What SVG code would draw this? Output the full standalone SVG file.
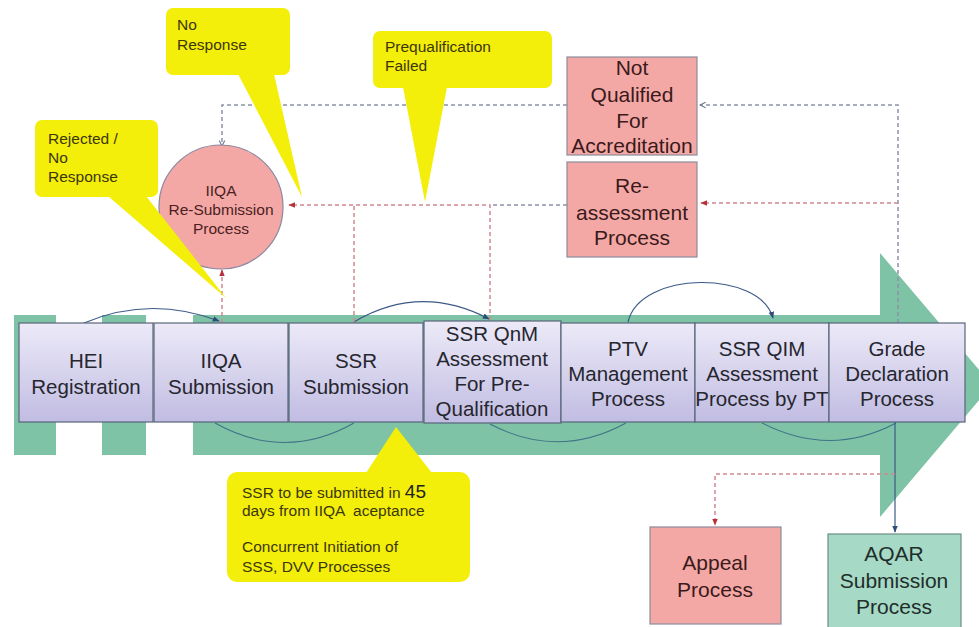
<svg xmlns="http://www.w3.org/2000/svg" width="979" height="627" viewBox="0 0 979 627">
<style>
.bt{font-family:"Liberation Sans",Arial,sans-serif;font-size:20.5px;fill:#26262f;text-anchor:middle}
.pt{font-family:"Liberation Sans",Arial,sans-serif;font-size:21px;fill:#3a1a1a;text-anchor:middle}
.ct{font-family:"Liberation Sans",Arial,sans-serif;font-size:15.5px;fill:#3c360c}
.box{fill:url(#bg);stroke:#58657a;stroke-width:1.2}
.pink{fill:#f4a8a6;stroke:#8a8c9c;stroke-width:1.2}
.yel{fill:#f3ee0a}
.gl{fill:none;stroke:#8a93a8;stroke-width:1.5;stroke-dasharray:4 3}
.rl{fill:none;stroke:#d08890;stroke-width:1.5;stroke-dasharray:4 3}
.bl{fill:none;stroke:#3d5a86;stroke-width:1.2}
.bl2{fill:none;stroke:#3f7388;stroke-width:1.1}
</style>
<defs>
<linearGradient id="bg" x1="0" y1="0" x2="0" y2="1">
<stop offset="0" stop-color="#eceaf8"/>
<stop offset="1" stop-color="#c1bce2"/>
</linearGradient>
<marker id="ag" viewBox="0 0 10 10" refX="9" refY="5" markerWidth="7" markerHeight="7" orient="auto-start-reverse" markerUnits="userSpaceOnUse">
<path d="M1 1 L9 5 L1 9" fill="none" stroke="#6a7590" stroke-width="1.5"/>
</marker>
<marker id="ar" viewBox="0 0 10 10" refX="9" refY="5" markerWidth="7" markerHeight="7" orient="auto-start-reverse" markerUnits="userSpaceOnUse">
<path d="M0 1 L10 5 L0 9 Z" fill="#b8303a"/>
</marker>
<marker id="ab" viewBox="0 0 10 10" refX="9" refY="5" markerWidth="7" markerHeight="7" orient="auto-start-reverse" markerUnits="userSpaceOnUse">
<path d="M0 1 L10 5 L0 9 Z" fill="#2f4d78"/>
</marker>
</defs>
<rect width="979" height="627" fill="#ffffff"/>
<g id="bigarrow" fill="#7ec3a6">
<rect x="14" y="315" width="42" height="140"/>
<rect x="102" y="315" width="44" height="140"/>
<path d="M193 315 L880 315 L880 253 L992 385 L880 517 L880 455 L193 455 Z"/>
</g>
<g id="connectors">
<path class="bl" d="M84 323 Q150 295 219 321" marker-end="url(#ab)"/>
<path class="bl" d="M354 322 Q420 283 489 319" marker-end="url(#ab)"/>
<path class="bl" d="M628 322 C640 270 760 270 773 318" marker-end="url(#ab)"/>
<path class="bl2" d="M215 423 Q285 462 354 423"/>
<path class="bl2" d="M490 424 Q558 460 626 423"/>
<path class="bl2" d="M762 423 Q830 458 896 423"/>
<path class="gl" d="M898 323 L898 105 L700 105" marker-end="url(#ag)"/>
<path class="rl" d="M898 203 L701 203" marker-end="url(#ar)"/>
<path class="gl" d="M567 105 L222 105 L222 146" marker-end="url(#ag)"/>
<path class="rl" d="M222 323 L222 270" marker-end="url(#ar)"/>
<path class="rl" d="M354 322 L354 205"/>
<path class="rl" d="M490 320 L490 205 L289 205" marker-end="url(#ar)"/>
<path class="gl" d="M567 205 L490 205"/>
<path class="bl" d="M895 422 L895 532" marker-end="url(#ab)"/>
<path class="rl" d="M895 474 L715 474 L715 525" marker-end="url(#ar)"/>
</g>
<g id="hei"><rect class="box" x="19" y="323" width="134" height="99"/><text class="bt" x="86" y="368">HEI</text><text class="bt" x="86" y="394">Registration</text></g>
<g id="iiqa"><rect class="box" x="154" y="323" width="134" height="99"/><text class="bt" x="221" y="368">IIQA</text><text class="bt" x="221" y="394">Submission</text></g>
<g id="ssr"><rect class="box" x="289" y="323" width="134" height="99"/><text class="bt" x="356" y="368">SSR</text><text class="bt" x="356" y="394">Submission</text></g>
<g id="qnm"><rect class="box" x="424" y="321" width="137" height="102"/><text class="bt" x="492" y="341">SSR QnM</text><text class="bt" x="492" y="366">Assessment</text><text class="bt" x="492" y="391">For Pre-</text><text class="bt" x="492" y="416">Qualification</text></g>
<g id="ptv"><rect class="box" x="561" y="323" width="134" height="99"/><text class="bt" x="628" y="356">PTV</text><text class="bt" x="628" y="381">Management</text><text class="bt" x="628" y="406">Process</text></g>
<g id="qim"><rect class="box" x="695" y="323" width="134" height="99"/><text class="bt" x="762" y="356">SSR QIM</text><text class="bt" x="762" y="381">Assessment</text><text class="bt" x="762" y="406">Process by PT</text></g>
<g id="grade"><rect class="box" x="829" y="323" width="136" height="99"/><text class="bt" x="897" y="356">Grade</text><text class="bt" x="897" y="381">Declaration</text><text class="bt" x="897" y="406">Process</text></g>
<g id="resub"><circle cx="221" cy="207" r="62" fill="#f4a8a6" stroke="#8a86a0" stroke-width="1.2"/>
<text class="ct" x="221" y="196" text-anchor="middle" style="fill:#4a1e22">IIQA</text>
<text class="ct" x="221" y="215" text-anchor="middle" style="fill:#4a1e22">Re-Submission</text>
<text class="ct" x="221" y="234" text-anchor="middle" style="fill:#4a1e22">Process</text></g>
<g id="notq"><rect class="pink" x="567" y="57" width="130" height="98"/><text class="pt" x="632" y="75">Not</text><text class="pt" x="632" y="102">Qualified</text><text class="pt" x="632" y="128">For</text><text class="pt" x="632" y="153">Accreditation</text></g>
<g id="reass"><rect class="pink" x="567" y="162" width="130" height="95"/><text class="pt" x="632" y="193">Re-</text><text class="pt" x="632" y="220">assessment</text><text class="pt" x="632" y="245">Process</text></g>
<g id="appeal"><rect class="pink" x="650" y="527" width="131" height="97"/><text class="pt" x="715" y="570">Appeal</text><text class="pt" x="715" y="597">Process</text></g>
<g id="aqar"><rect x="828" y="534" width="133" height="96" fill="#a6d9c6" stroke="#6a8f84" stroke-width="1.2"/><text class="pt" x="894" y="561" style="fill:#1f2e2a">AQAR</text><text class="pt" x="894" y="588" style="fill:#1f2e2a">Submission</text><text class="pt" x="894" y="614" style="fill:#1f2e2a">Process</text></g>
<g id="callout-noresp"><rect class="yel" x="166" y="8" width="124" height="67" rx="7"/><path class="yel" d="M238 74 L274 74 L302 197 Z"/><text class="ct" x="177" y="30">No</text><text class="ct" x="177" y="50">Response</text></g>
<g id="callout-rejected"><rect class="yel" x="35" y="120" width="123" height="77" rx="7"/><path class="yel" d="M108 196 L146 196 L226 298 Z"/><text class="ct" x="48" y="144">Rejected /</text><text class="ct" x="48" y="163">No</text><text class="ct" x="48" y="182">Response</text></g>
<g id="callout-prequal"><rect class="yel" x="373" y="31" width="179" height="57" rx="7"/><path class="yel" d="M403 87 L447 87 L425 202 Z"/><text class="ct" x="385" y="52">Prequalification</text><text class="ct" x="385" y="71">Failed</text></g>
<g id="callout-ssr"><rect class="yel" x="227" y="472" width="243" height="110" rx="10"/><path class="yel" d="M366 473 L432 473 L396 427 Z"/>
<text class="ct" x="242" y="498">SSR to be submitted in <tspan style="font-size:19px;fill:#222">45</tspan></text>
<text class="ct" x="242" y="516" xml:space="preserve">days from IIQA  aceptance</text>
<text class="ct" x="242" y="552">Concurrent Initiation of</text>
<text class="ct" x="242" y="572">SSS, DVV Processes</text></g>
</svg>
